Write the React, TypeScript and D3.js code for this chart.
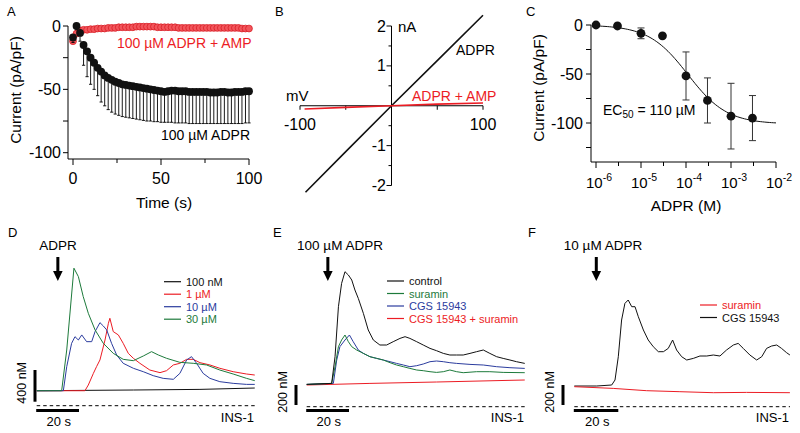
import React from 'react';
import * as d3 from 'd3';

const FONT = '"Liberation Sans", Arial, Helvetica, sans-serif';
const RED = '#ec1c24';
const GREEN = '#1d7a3b';
const BLUE = '#2b3c9e';

// ---- Panel A: current vs time (mean, lower SEM end)
const aTime = d3.range(0, 101, 2);
const aAdpr = [-9, 0, -5.5, -15, -20, -25, -29, -33, -36, -39, -41, -42.5, -44, -45, -46, -46.5, -47, -47.5, -48, -48.5,
  -49, -49.5, -50, -50.5, -51, -51.5, -52, -51.5, -51, -51, -51.5, -51.5, -51.5, -52, -52, -52, -52, -52, -52, -52.5,
  -52.5, -52.5, -52, -52, -52.5, -52.5, -52, -52, -52, -51.5, -51.5];
const aAdprLow = [-13, -3, -12, -31, -40, -46, -50, -55, -60, -63, -66, -68, -69.5, -70.5, -71.5, -72, -72.5, -73, -73.5,
  -74, -74.5, -75, -75, -75.5, -75.5, -76, -76, -76, -76, -76.5, -76.5, -76.5, -76.5, -77, -77, -77, -77, -77, -77, -77,
  -77, -77, -77, -77, -77, -77, -77, -77, -77, -76.5, -76.5];
const aAmp = [-12, -6, -3.5, -3, -3, -2.5, -2.5, -2, -2, -2, -1.5, -1.5, -1.5, -1, -1, -1, -1, -1, -0.5, -0.5, -0.5, -0.5,
  -0.5, -0.5, -1, -1, -1, -1, -1, -1, -1.5, -1.5, -1.5, -1.5, -1.5, -1.5, -1.5, -1.5, -1.5, -1.5, -1.5, -1.5, -1.5, -1.5,
  -1.5, -1.5, -1.5, -1.5, -2, -2, -2];
const aAmpErr = [2, 2, 1, 1, 1, 1, 1, 1, 1, 1, 1, 1, 1, 1, 1, 1, 1, 1, 1, 1, 1, 1, 1, 1, 1, 1, 1, 1, 1, 1, 1, 1, 1, 1, 1, 1,
  1, 1, 1, 1, 1, 1, 1, 1, 1, 1, 1, 1, 1, 1, 1];

// ---- Panel B: I-V ramps (mV, nA)
const ivAdpr: [number, number][] = [[-94, -2.17], [-50, -1.15], [0, 0], [50, 1.13], [100, 2.27]];
const ivAmp: [number, number][] = [[-95, -0.08], [-50, -0.04], [0, 0], [50, 0.04], [100, 0.07]];

// ---- Panel C: dose response
const cConc = [1e-6, 3e-6, 1e-5, 3e-5, 1e-4, 3e-4, 1e-3, 3e-3];
const cMean = [0, -1, -8.5, -11, -52, -77, -93, -95];
const cErr = [0, 0, 5.5, 2, 24.5, 23, 33.5, 23];
const cFit = { imax: -101, ec50: 110e-6, hill: 1 };

// ---- Panel D: [Ca] traces (s, nM)
const dBlack: [number, number][] = [[0, 189], [45.7, 198], [77.2, 206], [103.1, 223]];
const dRed: [number, number][] = [[0, 189], [22.8, 189], [24.4, 261], [26.8, 408], [28.3, 493], [29.9, 577], [32.3, 829],
  [33.9, 1040], [34.6, 1103], [36.2, 935], [38.6, 893], [40.9, 787], [43.3, 661], [45.7, 598], [48.8, 535], [53.5, 450],
  [58.3, 417], [61.4, 442], [64.6, 514], [67.7, 535], [70.9, 585], [74, 585], [77.2, 543], [81.9, 514], [86.6, 472],
  [92.9, 429], [99.2, 400], [103.1, 387]];
const dBlue: [number, number][] = [[0, 189], [12.6, 189], [14.2, 493], [16.5, 787], [18.1, 871], [19.7, 829], [21.3, 893],
  [23.6, 808], [26, 808], [27.6, 935], [29.9, 1048], [31.5, 1006], [33.1, 956], [35.4, 787], [37.8, 640], [40.9, 535],
  [45.7, 472], [50.4, 429], [55.1, 379], [59.8, 345], [64.6, 333], [67.7, 408], [70.9, 577], [73.2, 619], [75.6, 535],
  [78.7, 408], [81.9, 345], [86.6, 303], [92.9, 282], [99.2, 269], [103.1, 269]];
const dGreen: [number, number][] = [[0, 189], [11.8, 189], [14.2, 703], [17.6, 1735], [19.7, 1629], [22, 1377], [24.4, 1166],
  [27.6, 956], [31.5, 787], [36.2, 661], [40.9, 585], [45.7, 568], [50.4, 627], [54.3, 682], [57.5, 640], [61.4, 598],
  [67.7, 547], [74, 535], [80.3, 514], [86.6, 450], [92.9, 400], [99.2, 345], [103.1, 316]];
const dLabels = ['100 nM', '1 µM', '10 µM', '30 µM'];

// ---- Panel E
const eControl: [number, number][] = [[0, 223], [11.8, 233], [13.4, 500], [15, 1000], [16.5, 1233], [18.1, 1350], [19.7, 1317],
  [21.3, 1267], [22.8, 1167], [24.4, 1083], [26.8, 933], [29.1, 767], [31.5, 667], [34.6, 617], [37.8, 617], [40.9, 650],
  [44.1, 683], [46.5, 700], [48.8, 683], [52, 650], [55.1, 617], [58.3, 583], [61.4, 560], [64.6, 533], [67.7, 517],
  [70.9, 517], [74, 517], [77.2, 533], [80.3, 550], [83.5, 567], [86.6, 533], [89.8, 500], [92.9, 483], [96.1, 467],
  [99.2, 450], [103.1, 433]];
const eSuramin: [number, number][] = [[0, 223], [11.8, 233], [13.4, 400], [15, 600], [16.5, 667], [18.1, 717], [19.7, 650],
  [21.3, 600], [23.6, 567], [26.8, 533], [29.9, 500], [33.1, 483], [36.2, 467], [39.4, 440], [42.5, 417], [45.7, 400],
  [48.8, 383], [52, 367], [55.1, 360], [58.3, 350], [61.4, 343], [64.6, 350], [67.7, 367], [70.9, 350], [74, 340],
  [80.3, 350], [86.6, 350], [92.9, 343], [103.1, 340]];
const eCgs: [number, number][] = [[0, 223], [12.6, 233], [14.2, 467], [15.7, 600], [18.1, 667], [20.2, 717], [22, 650],
  [24.4, 567], [26.8, 533], [29.9, 500], [33.1, 483], [36.2, 467], [39.4, 450], [42.5, 433], [45.7, 417], [48.8, 400],
  [52, 410], [55.1, 427], [58.3, 450], [61.4, 457], [64.6, 450], [67.7, 440], [70.9, 433], [77.2, 423], [83.5, 417],
  [89.8, 400], [96.1, 390], [103.1, 383]];
const eBoth: [number, number][] = [[0, 217], [29.9, 233], [61.4, 247], [103.1, 267]];
const eLabels = ['control', 'suramin', 'CGS 15943', 'CGS 15943 + suramin'];

// ---- Panel F
const fSuramin: [number, number][] = [[0, 200], [17.7, 183], [32.9, 160], [48, 150], [63.2, 140], [78.3, 143], [98, 140]];
const fCgs: [number, number][] = [[0, 207], [10.2, 207], [17, 217], [18.5, 267], [20, 500], [21.5, 867], [23, 1033],
  [24.5, 1067], [26.1, 1000], [27.6, 1000], [29.1, 900], [31.4, 767], [33.6, 667], [35.9, 600], [38.2, 550], [40.5, 550],
  [42.7, 583], [44.7, 667], [46.5, 567], [48.8, 500], [51.1, 467], [54.1, 483], [57.1, 507], [60.2, 507], [63.2, 517],
  [66.2, 507], [69.2, 567], [72.3, 617], [74.5, 633], [76.8, 583], [79.8, 517], [82.9, 467], [85.2, 500], [87.4, 583],
  [89.7, 607], [92, 617], [94.2, 583], [96.5, 540], [98, 517]];
const fLabels = ['suramin', 'CGS 15943'];

type Sc = d3.ScaleLinear<number, number>;

const trace = (data: [number, number][], x: Sc, y: Sc) =>
  d3.line()(data.map(([t, c]) => [x(t), y(c)] as [number, number])) || '';

const Arrow = ({ x, y0, y1 }: { x: number; y0: number; y1: number }) => (
  <g>
    <line x1={x} x2={x} y1={y0} y2={y1 - 9} stroke="#000" strokeWidth={3} />
    <path d={`M${x - 4.8},${y1 - 10} L${x + 4.8},${y1 - 10} L${x},${y1} Z`} fill="#000" />
  </g>
);

const Legend = ({ x, y, labels, colors, size }: { x: number; y: number; labels: string[]; colors: string[]; size: number }) => (
  <g>
    {labels.map((l, i) => (
      <g key={l} transform={`translate(${x},${y + i * 12.5})`}>
        <line x1={0} x2={17} y1={0} y2={0} stroke={colors[i]} strokeWidth={1.2} />
        <text x={22} y={4} fontSize={size} fill={colors[i]}>{l}</text>
      </g>
    ))}
  </g>
);

const CaPanel = ({ x, y, xEnd, barX, barTop, barNm, arrowT, title, titleX }: {
  x: Sc; y: Sc; xEnd: number; barX: number; barTop: number; barNm: number; arrowT: number; title: string; titleX: number;
}) => {
  const barLen = y(0) - y(barNm);
  return (
    <g>
      <line x1={x(0)} x2={xEnd} y1={y(0)} y2={y(0)} stroke="#000" strokeWidth={1} strokeDasharray="3.5,3" />
      <line x1={barX} x2={barX} y1={barTop} y2={barTop + barLen} stroke="#000" strokeWidth={3} />
      <line x1={x(0) - 0.5} x2={x(20)} y1={410.5} y2={410.5} stroke="#000" strokeWidth={3} />
      <text x={(x(0) + x(20)) / 2 + 1} y={426} fontSize={13} textAnchor="middle">20 s</text>
      <text x={xEnd - 1} y={421.5} fontSize={13} textAnchor="end">INS-1</text>
      <text transform={`translate(${barX - 9},${barTop + barLen / 2 - 3}) rotate(-90)`} fontSize={12.5} textAnchor="middle">
        {`${barNm} nM`}
      </text>
      <Arrow x={x(arrowT)} y0={257} y1={281} />
      <text x={titleX} y={250} fontSize={13.5} textAnchor="middle">{title}</text>
    </g>
  );
};

export default function App() {
  // A
  const xA = d3.scaleLinear([0, 100], [73, 249]);
  const yA = d3.scaleLinear([-100, 0], [152.7, 26]);
  // B
  const xB = d3.scaleLinear([-100, 100], [300, 483]);
  const yB = d3.scaleLinear([-2, 2], [185.5, 26]);
  // C
  const xC = d3.scaleLog([1e-6, 1e-2], [596, 776]);
  const yC = d3.scaleLinear([-100, 0], [123, 25]);
  const fitX = d3.range(-6, -1.99, 0.05).map((e) => Math.pow(10, e));
  const fitPath = d3.line<number>()
    .x((c) => xC(c))
    .y((c) => yC((cFit.imax * Math.pow(c, cFit.hill)) / (Math.pow(c, cFit.hill) + Math.pow(cFit.ec50, cFit.hill))))(fitX) || '';
  // D, E, F
  const xD = d3.scaleLinear([0, 20], [36.7, 79]);
  const yD = d3.scaleLinear([0, 400], [405.7, 374]);
  const xE = d3.scaleLinear([0, 20], [306.7, 349]);
  const yE = d3.scaleLinear([0, 200], [406.7, 386.7]);
  const xF = d3.scaleLinear([0, 20], [574.3, 618.3]);
  const yF = d3.scaleLinear([0, 200], [406.7, 386.7]);

  const ivLine = (d: [number, number][]) => d3.line()(d.map(([v, i]) => [xB(v), yB(i)] as [number, number])) || '';

  return (
    <div style={{ position: 'fixed', left: 0, top: 0 }}>
      <svg width={800} height={433} viewBox="0 0 800 433" fontFamily={FONT} style={{ background: '#fff', display: 'block' }}>
        {/* panel letters */}
        <text x={7} y={16} fontSize={13}>A</text>
        <text x={275} y={16} fontSize={13}>B</text>
        <text x={526} y={16} fontSize={13}>C</text>
        <text x={8} y={237} fontSize={13}>D</text>
        <text x={273} y={237} fontSize={13}>E</text>
        <text x={528} y={237} fontSize={13}>F</text>

        {/* ===== A ===== */}
        <g>
          <path d={`M68,${yA(0)} L68,159 L${xA(100)},159`} fill="none" stroke="#000" strokeWidth={1} />
          {[0, -25, -50, -75, -100].map((v) => (
            <line key={v} x1={63} x2={68} y1={yA(v)} y2={yA(v)} stroke="#000" />
          ))}
          {[0, -50, -100].map((v) => (
            <text key={v} x={61} y={yA(v) + 5.5} fontSize={16} textAnchor="end">{v}</text>
          ))}
          {[0, 25, 50, 75, 100].map((v) => (
            <line key={v} x1={xA(v)} x2={xA(v)} y1={159} y2={159 + (v % 50 === 0 ? 6 : 4)} stroke="#000" />
          ))}
          {[0, 50, 100].map((v) => (
            <text key={v} x={xA(v)} y={184} fontSize={16} textAnchor="middle">{v}</text>
          ))}
          <text x={164} y={208} fontSize={15.5} textAnchor="middle">Time (s)</text>
          <text transform="translate(21,90) rotate(-90)" fontSize={15.5} textAnchor="middle">Current (pA/pF)</text>

          {aTime.map((t, i) => (
            <g key={'r' + t}>
              <line x1={xA(t)} x2={xA(t)} y1={yA(aAmp[i] - aAmpErr[i])} y2={yA(aAmp[i] + aAmpErr[i])} stroke="#c4161c" />
              <circle cx={xA(t)} cy={yA(aAmp[i])} r={3.4} fill="#f2555b" stroke="#d81e26" strokeWidth={0.8} />
            </g>
          ))}
          {aTime.map((t, i) => (
            <g key={'b' + t}>
              <line x1={xA(t)} x2={xA(t)} y1={yA(aAdpr[i])} y2={yA(aAdprLow[i])} stroke="#000" strokeWidth={0.9} />
              <line x1={xA(t) - 1.6} x2={xA(t) + 1.6} y1={yA(aAdprLow[i])} y2={yA(aAdprLow[i])} stroke="#000" strokeWidth={0.9} />
            </g>
          ))}
          {aTime.map((t, i) => (
            <circle key={'c' + t} cx={xA(t)} cy={yA(aAdpr[i])} r={3.9} fill="#111" />
          ))}
          <text x={117} y={48} fontSize={14} fill={RED}>100 µM ADPR + AMP</text>
          <text x={250} y={140} fontSize={14} textAnchor="end">100 µM ADPR</text>
        </g>

        {/* ===== B ===== */}
        <g>
          <line x1={xB(0)} x2={xB(0)} y1={yB(2)} y2={yB(-2)} stroke="#000" />
          {[2, 1, -1, -2].map((v) => (
            <line key={v} x1={xB(0) - 5} x2={xB(0)} y1={yB(v)} y2={yB(v)} stroke="#000" />
          ))}
          {[1.5, 0.5, -0.5, -1.5].map((v) => (
            <line key={v} x1={xB(0) - 3} x2={xB(0)} y1={yB(v)} y2={yB(v)} stroke="#000" />
          ))}
          {[2, 1, -1, -2].map((v) => (
            <text key={v} x={386} y={yB(v) + 5.5} fontSize={16} textAnchor="end">{v}</text>
          ))}
          <line x1={xB(-100)} x2={xB(100)} y1={yB(0)} y2={yB(0)} stroke="#000" />
          {[-100, -50, 50, 100].map((v) => (
            <line key={v} x1={xB(v)} x2={xB(v)} y1={yB(0)} y2={yB(0) + 4} stroke="#000" />
          ))}
          {[-100, 100].map((v) => (
            <text key={v} x={xB(v)} y={129.5} fontSize={16} textAnchor="middle">{v}</text>
          ))}
          <text x={286} y={101} fontSize={15}>mV</text>
          <text x={398} y={32} fontSize={15}>nA</text>
          <path d={ivLine(ivAdpr)} fill="none" stroke="#111" strokeWidth={1.6} />
          <path d={ivLine(ivAmp)} fill="none" stroke={RED} strokeWidth={1.6} />
          <text x={456} y={55} fontSize={14}>ADPR</text>
          <text x={412} y={101} fontSize={14} fill={RED}>ADPR + AMP</text>
        </g>

        {/* ===== C ===== */}
        <g>
          <path d={`M591,${yC(0)} L591,162 L776,162`} fill="none" stroke="#000" />
          {[0, -25, -50, -75, -100, -125].map((v) => (
            <line key={v} x1={586} x2={591} y1={yC(v)} y2={yC(v)} stroke="#000" />
          ))}
          {[0, -50, -100].map((v) => (
            <text key={v} x={583} y={yC(v) + 5.5} fontSize={16} textAnchor="end">{v}</text>
          ))}
          {[-6, -5, -4, -3, -2].map((e) => (
            <g key={e}>
              <line x1={xC(Math.pow(10, e))} x2={xC(Math.pow(10, e))} y1={162} y2={168} stroke="#000" />
              <text x={xC(Math.pow(10, e)) + 3} y={188} fontSize={15} textAnchor="middle">
                10<tspan dy={-7} fontSize={10.5}>{e}</tspan>
              </text>
            </g>
          ))}
          {[-5.5, -4.5, -3.5, -2.5].map((e) => (
            <line key={e} x1={xC(Math.pow(10, e))} x2={xC(Math.pow(10, e))} y1={162} y2={166} stroke="#000" />
          ))}
          <text x={686} y={211} fontSize={15.5} textAnchor="middle">ADPR (M)</text>
          <text transform="translate(544,88) rotate(-90)" fontSize={15.5} textAnchor="middle">Current (pA/pF)</text>
          <path d={fitPath} fill="none" stroke="#111" strokeWidth={1} />
          {cConc.map((c, i) => (
            <g key={c}>
              {cErr[i] > 0 && (
                <g stroke="#333" strokeWidth={1}>
                  <line x1={xC(c)} x2={xC(c)} y1={yC(cMean[i] + cErr[i])} y2={yC(cMean[i] - cErr[i])} />
                  <line x1={xC(c) - 3.5} x2={xC(c) + 3.5} y1={yC(cMean[i] + cErr[i])} y2={yC(cMean[i] + cErr[i])} />
                  <line x1={xC(c) - 3.5} x2={xC(c) + 3.5} y1={yC(cMean[i] - cErr[i])} y2={yC(cMean[i] - cErr[i])} />
                </g>
              )}
              <circle cx={xC(c)} cy={yC(cMean[i])} r={4.4} fill="#111" />
            </g>
          ))}
          <text x={603} y={115} fontSize={14}>
            EC<tspan dy={3} fontSize={10}>50</tspan><tspan dy={-3}> = 110 µM</tspan>
          </text>
        </g>

        {/* ===== D ===== */}
        <CaPanel x={xD} y={yD} xEnd={255} barX={35} barTop={370} barNm={400} arrowT={10} title="ADPR" titleX={58} />
        <path d={trace(dBlack, xD, yD)} fill="none" stroke="#111" strokeWidth={1} />
        <path d={trace(dRed, xD, yD)} fill="none" stroke={RED} strokeWidth={1} />
        <path d={trace(dBlue, xD, yD)} fill="none" stroke={BLUE} strokeWidth={1} />
        <path d={trace(dGreen, xD, yD)} fill="none" stroke={GREEN} strokeWidth={1} />
        <Legend x={164} y={281.7} labels={dLabels} colors={['#111', RED, BLUE, GREEN]} size={11} />

        {/* ===== E ===== */}
        <CaPanel x={xE} y={yE} xEnd={525} barX={296} barTop={385} barNm={200} arrowT={10} title="100 µM ADPR" titleX={340} />
        <path d={trace(eBoth, xE, yE)} fill="none" stroke={RED} strokeWidth={1} />
        <path d={trace(eCgs, xE, yE)} fill="none" stroke={BLUE} strokeWidth={1} />
        <path d={trace(eSuramin, xE, yE)} fill="none" stroke={GREEN} strokeWidth={1} />
        <path d={trace(eControl, xE, yE)} fill="none" stroke="#111" strokeWidth={1} />
        <Legend x={387} y={281} labels={eLabels} colors={['#111', GREEN, BLUE, RED]} size={11} />

        {/* ===== F ===== */}
        <CaPanel x={xF} y={yF} xEnd={790} barX={563} barTop={385} barNm={200} arrowT={10} title="10 µM ADPR" titleX={603} />
        <path d={trace(fCgs, xF, yF)} fill="none" stroke="#111" strokeWidth={1} />
        <path d={trace(fSuramin, xF, yF)} fill="none" stroke={RED} strokeWidth={1} />
        <Legend x={700} y={305} labels={fLabels} colors={[RED, '#111']} size={11} />
      </svg>
    </div>
  );
}
